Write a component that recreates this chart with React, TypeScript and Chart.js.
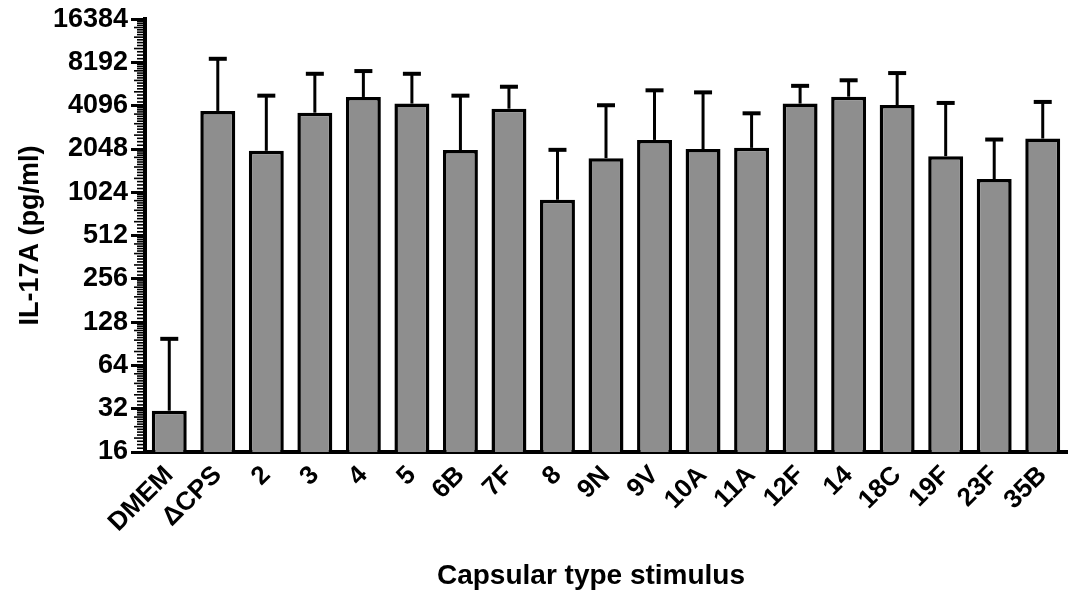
import React, { useEffect, useRef } from "react";
import { Chart, registerables } from "chart.js";

Chart.register(...registerables);

const categories = ["DMEM", "ΔCPS", "2", "3", "4", "5", "6B", "7F", "8", "9N", "9V", "10A", "11A", "12F", "14", "18C", "19F", "23F", "35B"];
const means = [31, 3770, 1990, 3665, 4715, 4240, 2013, 3907, 909, 1770, 2370, 2048, 2087, 4240, 4735, 4145, 1827, 1265, 2423];
const upper = [98, 8690, 4815, 6835, 7140, 6835, 4815, 5555, 2022, 4130, 5245, 5075, 3630, 5635, 6160, 6915, 4285, 2385, 4355];
const yTicks = [16, 32, 64, 128, 256, 512, 1024, 2048, 4096, 8192, 16384];
const xTitle = "Capsular type stimulus";

const FONT = "Arial, 'Liberation Sans', sans-serif";

const extrasPlugin = {
  id: "extras",
  afterDatasetsDraw(chart: any) {
    const ctx = chart.ctx;
    const y = chart.scales.y;
    const meta = chart.getDatasetMeta(0);
    ctx.save();
    ctx.strokeStyle = "#000";
    meta.data.forEach((bar: any, i: number) => {
      const x = bar.x;
      const yTop = bar.y;
      const yErr = y.getPixelForValue(upper[i]);
      ctx.lineWidth = 3;
      ctx.beginPath();
      ctx.moveTo(x, yTop);
      ctx.lineTo(x, yErr);
      ctx.stroke();
      ctx.lineWidth = 4;
      ctx.beginPath();
      ctx.moveTo(x - 9, yErr);
      ctx.lineTo(x + 9, yErr);
      ctx.stroke();
    });
    // minor ticks on the log2 axis
    const ax = chart.chartArea.left;
    ctx.lineWidth = 1.6;
    for (let n = 4; n < 14; n++) {
      const base = Math.pow(2, n);
      for (let k = 1; k < 16; k++) {
        const v = base * (1 + k / 16);
        const py = y.getPixelForValue(v);
        const len = k % 4 === 0 ? 11 : 8;
        ctx.beginPath();
        ctx.moveTo(ax - len, py);
        ctx.lineTo(ax, py);
        ctx.stroke();
      }
    }
    ctx.restore();
  },
  afterDraw(chart: any) {
    const ctx = chart.ctx;
    ctx.save();
    ctx.fillStyle = "#000";
    ctx.font = `bold 28px ${FONT}`;
    ctx.textAlign = "center";
    ctx.textBaseline = "middle";
    ctx.fillText(xTitle, 591, 576);
    ctx.restore();
  },
};

export default function App() {
  const ref = useRef<HTMLCanvasElement>(null);
  useEffect(() => {
    if (!ref.current) return;
    const chart = new Chart(ref.current, {
      type: "bar",
      data: {
        labels: categories,
        datasets: [
          {
            data: means,
            backgroundColor: "#8e8e8e",
            borderColor: "#000",
            borderWidth: 3.5,
            barPercentage: 0.72,
            categoryPercentage: 1,
          },
        ],
      },
      options: {
        animation: false,
        responsive: false,
        devicePixelRatio: 1,
        layout: { padding: { top: 18, right: 6, left: 0, bottom: 0 } },
        plugins: { legend: { display: false }, tooltip: { enabled: false } },
        scales: {
          x: {
            grid: { display: false, drawTicks: false },
            border: { display: true, color: "#000", width: 4 },
            ticks: {
              color: "#000",
              font: { family: FONT, size: 26, weight: "bold" },
              minRotation: 45,
              maxRotation: 45,
              padding: 8,
              autoSkip: false,
            },
            afterFit: (s: any) => {
              s.height = 148;
            },
          },
          y: {
            type: "logarithmic",
            min: 16,
            max: 16384,
            grid: {
              drawOnChartArea: false,
              drawTicks: true,
              tickLength: 14,
              tickWidth: 3,
              tickColor: "#000",
            },
            border: { display: true, color: "#000", width: 4 },
            afterBuildTicks: (s: any) => {
              s.ticks = yTicks.map((v) => ({ value: v }));
            },
            ticks: {
              color: "#000",
              font: { family: FONT, size: 27, weight: "bold" },
              padding: 3,
              callback: (v: any) => String(v),
            },
            title: {
              display: true,
              text: "IL-17A (pg/ml)",
              color: "#000",
              font: { family: FONT, size: 27, weight: "bold" },
              padding: { top: 14, bottom: 0 },
            },
            afterFit: (s: any) => {
              s.width = 145;
            },
          },
        },
      },
      plugins: [extrasPlugin],
    });
    return () => chart.destroy();
  }, []);
  return (
    <div style={{ position: "fixed", left: 0, top: 0, width: 1073, height: 600, background: "#fff" }}>
      <canvas ref={ref} width={1073} height={600} />
    </div>
  );
}
